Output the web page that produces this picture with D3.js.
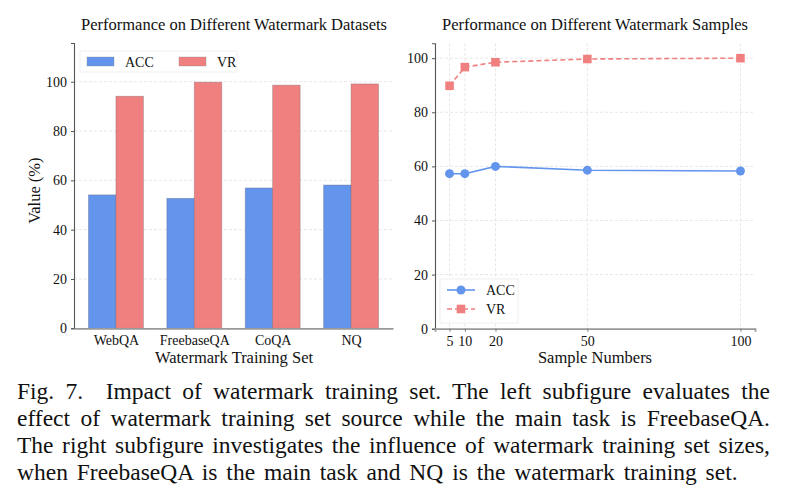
<!DOCTYPE html>
<html>
<head>
<meta charset="utf-8">
<script src="https://cdn.jsdelivr.net/npm/d3@7"></script>
<style>
  body { margin: 0; background: #fff; }
  svg text { font-family: "Liberation Serif", "Times New Roman", serif; fill: #111; }
  .cap { position: absolute; left: 17px; width: 753px; font-family: "Liberation Serif", serif;
         font-size: 23.5px; color: #111; line-height: 27px; white-space: nowrap; }
  .just { text-align: justify; text-align-last: justify; }
</style>
</head>
<body>
<svg width="785" height="502"></svg>
<div class="cap just" style="top:378px">Fig. 7.&nbsp; Impact of watermark training set. The left subfigure evaluates the</div>
<div class="cap just" style="top:404.9px">effect of watermark training set source while the main task is FreebaseQA.</div>
<div class="cap just" style="top:431.8px">The right subfigure investigates the influence of watermark training set sizes,</div>
<div class="cap" style="top:458.7px; word-spacing:3px">when FreebaseQA is the main task and NQ is the watermark training set.</div>
<script>
var datasets = ["WebQA", "FreebaseQA", "CoQA", "NQ"];
var accByDataset = [54.1, 52.7, 56.9, 58.1];
var vrByDataset = [94.1, 99.8, 98.6, 99.1];
var sampleNumbers = [5, 10, 20, 50, 100];
var accBySample = [57.3, 57.3, 60.0, 58.6, 58.3];
var vrBySample = [89.8, 96.7, 98.5, 99.7, 100.0];
var leftTicks = [0, 20, 40, 60, 80, 100];
var rightTicks = [0, 20, 40, 60, 80, 100];

var accColor = "#6495ED", vrColor = "#F08080";
var svg = d3.select("svg");

// ---------- left: grouped bars ----------
var L = {left: 74, right: 393, top: 43, bottom: 328.3};
var xL = d3.scaleLinear().domain([-0.535, 3.535]).range([L.left, L.right]);
var yL = d3.scaleLinear().domain([0, 115.7]).range([L.bottom, L.top]);
var bw = 0.35;

var gl = svg.append("g");
gl.selectAll(".grid").data(leftTicks.slice(1)).enter().append("line")
  .attr("x1", L.left).attr("x2", L.right)
  .attr("y1", function(d) { return yL(d); }).attr("y2", function(d) { return yL(d); })
  .attr("stroke", "#ddd").attr("stroke-width", 0.7).attr("stroke-dasharray", "3,2");

gl.selectAll(".acc").data(accByDataset).enter().append("rect")
  .attr("x", function(d, i) { return xL(i - bw); })
  .attr("width", xL(bw) - xL(0))
  .attr("y", function(d) { return yL(d); })
  .attr("height", function(d) { return yL(0) - yL(d); })
  .attr("fill", accColor).attr("stroke", "#6a6a8a").attr("stroke-opacity", 0.5).attr("stroke-width", 0.8);

gl.selectAll(".vr").data(vrByDataset).enter().append("rect")
  .attr("x", function(d, i) { return xL(i); })
  .attr("width", xL(bw) - xL(0))
  .attr("y", function(d) { return yL(d); })
  .attr("height", function(d) { return yL(0) - yL(d); })
  .attr("fill", vrColor).attr("stroke", "#8a6a6a").attr("stroke-opacity", 0.5).attr("stroke-width", 0.8);

var axLy = gl.append("g").attr("transform", "translate(" + L.left + ",0)")
  .call(d3.axisLeft(yL).tickValues(leftTicks).tickSize(3).tickPadding(4));
axLy.select(".domain").attr("stroke", "#555").attr("stroke-width", 1.1);
axLy.selectAll(".tick line").attr("stroke", "#555");
axLy.selectAll("text").style("font-size", "14px").style("font-family", "Liberation Serif");

var axLx = gl.append("g").attr("transform", "translate(0," + L.bottom + ")")
  .call(d3.axisBottom(xL).tickValues([0, 1, 2, 3]).tickFormat(function(d) { return datasets[d]; }).tickSize(0).tickPadding(7));
axLx.select(".domain").attr("stroke", "#999").attr("stroke-width", 1.8);
axLx.selectAll("text").style("font-size", "14px").style("font-family", "Liberation Serif");

gl.append("text").attr("x", 234).attr("y", 30).attr("text-anchor", "middle")
  .style("font-size", "16.5px").text("Performance on Different Watermark Datasets");
gl.append("text").attr("x", 234).attr("y", 363).attr("text-anchor", "middle")
  .style("font-size", "16.5px").text("Watermark Training Set");
gl.append("text").attr("transform", "translate(40," + ((L.top + L.bottom) / 2 + 5) + ") rotate(-90)")
  .attr("text-anchor", "middle").style("font-size", "16.5px").text("Value (%)");

// legend left
var lgL = gl.append("g");
lgL.append("rect").attr("x", 80).attr("y", 51).attr("width", 157).attr("height", 21)
  .attr("fill", "#fff").attr("fill-opacity", 0.8).attr("stroke", "#f0f0f0");
[["ACC", accColor, 87], ["VR", vrColor, 179]].forEach(function(s) {
  lgL.append("rect").attr("x", s[2]).attr("y", 57).attr("width", 27).attr("height", 9)
    .attr("fill", s[1]).attr("stroke", "#888").attr("stroke-opacity", 0.4).attr("stroke-width", 0.8);
  lgL.append("text").attr("x", s[2] + 38).attr("y", 66.5).style("font-size", "14px").text(s[0]);
});

// ---------- right: lines ----------
var R = {left: 435, right: 755, top: 43.3, bottom: 328.7};
var xR = d3.scaleLinear().domain([0.25, 104.75]).range([R.left, R.right]);
var yR = d3.scaleLinear().domain([0, 105.5]).range([R.bottom, R.top]);

var gr = svg.append("g");
gr.selectAll(".hg").data(rightTicks.slice(1)).enter().append("line")
  .attr("x1", R.left).attr("x2", R.right)
  .attr("y1", function(d) { return yR(d); }).attr("y2", function(d) { return yR(d); })
  .attr("stroke", "#ddd").attr("stroke-width", 0.7).attr("stroke-dasharray", "3,2");
gr.selectAll(".vg").data(sampleNumbers).enter().append("line")
  .attr("y1", R.top).attr("y2", R.bottom)
  .attr("x1", function(d) { return xR(d); }).attr("x2", function(d) { return xR(d); })
  .attr("stroke", "#ddd").attr("stroke-width", 0.7).attr("stroke-dasharray", "3,2");

var line = d3.line().x(function(d) { return xR(d[0]); }).y(function(d) { return yR(d[1]); });
var accPts = sampleNumbers.map(function(n, i) { return [n, accBySample[i]]; });
var vrPts = sampleNumbers.map(function(n, i) { return [n, vrBySample[i]]; });

gr.append("path").datum(accPts).attr("d", line).attr("fill", "none")
  .attr("stroke", accColor).attr("stroke-width", 1.6);
gr.selectAll(".accm").data(accPts).enter().append("circle")
  .attr("cx", function(d) { return xR(d[0]); }).attr("cy", function(d) { return yR(d[1]); })
  .attr("r", 4.5).attr("fill", accColor);

gr.append("path").datum(vrPts).attr("d", line).attr("fill", "none")
  .attr("stroke", vrColor).attr("stroke-width", 1.6).attr("stroke-dasharray", "5,3");
gr.selectAll(".vrm").data(vrPts).enter().append("rect")
  .attr("x", function(d) { return xR(d[0]) - 4.3; }).attr("y", function(d) { return yR(d[1]) - 4.3; })
  .attr("width", 8.6).attr("height", 8.6).attr("fill", vrColor);

var axRy = gr.append("g").attr("transform", "translate(" + R.left + ",0)")
  .call(d3.axisLeft(yR).tickValues(rightTicks).tickSize(3).tickPadding(4));
axRy.select(".domain").attr("stroke", "#555").attr("stroke-width", 1.1);
axRy.selectAll(".tick line").attr("stroke", "#555");
axRy.selectAll("text").style("font-size", "14px").style("font-family", "Liberation Serif");

var axRx = gr.append("g").attr("transform", "translate(0," + R.bottom + ")")
  .call(d3.axisBottom(xR).tickValues(sampleNumbers).tickSize(3).tickPadding(4));
axRx.select(".domain").attr("stroke", "#999").attr("stroke-width", 1.8);
axRx.selectAll(".tick line").attr("stroke", "#777");
axRx.selectAll("text").style("font-size", "14px").style("font-family", "Liberation Serif");

gr.append("text").attr("x", 595).attr("y", 30).attr("text-anchor", "middle")
  .style("font-size", "16.5px").text("Performance on Different Watermark Samples");
gr.append("text").attr("x", 595).attr("y", 363).attr("text-anchor", "middle")
  .style("font-size", "16.5px").text("Sample Numbers");

// legend right
var lgR = gr.append("g");
lgR.append("rect").attr("x", 440).attr("y", 279).attr("width", 78).attr("height", 44)
  .attr("fill", "#fff").attr("fill-opacity", 0.8).attr("stroke", "#f0f0f0");
lgR.append("line").attr("x1", 447).attr("x2", 475).attr("y1", 290).attr("y2", 290)
  .attr("stroke", accColor).attr("stroke-width", 1.6);
lgR.append("circle").attr("cx", 461).attr("cy", 290).attr("r", 4.5).attr("fill", accColor);
lgR.append("text").attr("x", 486).attr("y", 295).style("font-size", "14px").text("ACC");
lgR.append("line").attr("x1", 447).attr("x2", 475).attr("y1", 309).attr("y2", 309)
  .attr("stroke", vrColor).attr("stroke-width", 1.6).attr("stroke-dasharray", "5,3");
lgR.append("rect").attr("x", 456.7).attr("y", 304.7).attr("width", 8.6).attr("height", 8.6).attr("fill", vrColor);
lgR.append("text").attr("x", 486).attr("y", 314).style("font-size", "14px").text("VR");
</script>
</body>
</html>
